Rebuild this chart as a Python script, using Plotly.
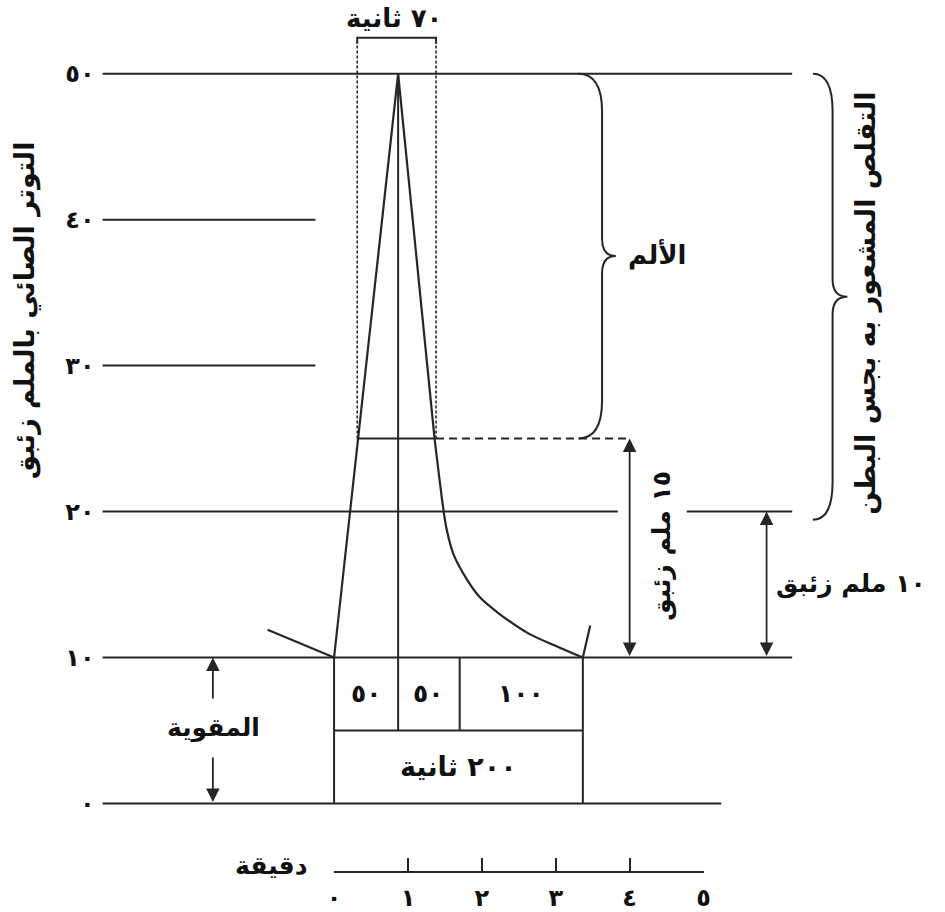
import plotly.graph_objects as go

# ---------------- data ----------------
y_tick_vals = [0, 10, 20, 30, 40, 50]
y_tick_text = ['٠', '١٠', '٢٠', '٣٠', '٤٠', '٥٠']
minute_vals = [0, 1, 2, 3, 4, 5]
minute_text = ['٠', '١', '٢', '٣', '٤', '٥']

# contraction curve (time in seconds, pressure in mmHg)
lead_t = [-54, 0]
lead_p = [11.9, 10]
rise_t = [0, 52]
rise_p = [10, 50]
fall_t = [52, 81.6]
fall_p = [50, 25]
decay_t = [81.6, 89, 91.7, 97, 107.7, 118.4, 134.4, 158.4, 182.4, 202]
decay_p = [25, 20, 18.67, 17.07, 15.37, 14.12, 12.98, 11.62, 10.71, 10]
tail_t = [202, 208]
tail_p = [10, 12.2]

basal_tone = 10
peak_p = 50
pain_level = 25
palpable_level = 20
phase_edges = [0, 52, 102, 202]
phase_labels = ['٥٠', '٥٠', '١٠٠']
total_label = '٢٠٠ ثانية'
pain_window = [18.8, 82.8]
pain_window_label = '٧٠ ثانية'

# ---------------- figure ----------------
W, H = 945, 912
LC = '#262626'
TC = '#111111'
FONT = 'DejaVu Sans'

# pixel <-> data helpers (x: seconds, y: mmHg)
X0PIX, XSCALE = 332.0, 1.25
Y0PIX, YSCALE = 807.0, 14.66
x_range = [(0 - X0PIX) / XSCALE, (W - X0PIX) / XSCALE]
y_range = [(Y0PIX - H) / YSCALE, (Y0PIX - 0) / YSCALE]

def xs(px):
    return (px - X0PIX) / XSCALE

def ys(py):
    return (Y0PIX - py) / YSCALE

fig = go.Figure()
line_style = dict(color=LC, width=2.2)
fig.add_trace(go.Scatter(x=lead_t, y=lead_p, mode='lines', line=line_style, hoverinfo='skip'))
fig.add_trace(go.Scatter(x=rise_t, y=rise_p, mode='lines', line=line_style, hoverinfo='skip'))
fig.add_trace(go.Scatter(x=fall_t, y=fall_p, mode='lines', line=line_style, hoverinfo='skip'))
fig.add_trace(go.Scatter(x=decay_t, y=decay_p, mode='lines',
                         line=dict(color=LC, width=2.2, shape='spline', smoothing=0.8),
                         hoverinfo='skip'))
fig.add_trace(go.Scatter(x=tail_t, y=tail_p, mode='lines', line=line_style, hoverinfo='skip'))
# invisible trace on the minute axis so it renders
fig.add_trace(go.Scatter(x=[0, 5], y=[-100, -100], xaxis='x2', yaxis='y', mode='markers',
                         marker=dict(opacity=0), hoverinfo='skip'))

shapes = []
def hline(y, x0, x1, dash='solid', width=2):
    shapes.append(dict(type='line', xref='x', yref='y', x0=x0, x1=x1, y0=y, y1=y,
                       line=dict(color=LC, width=width, dash=dash)))

def vline(x, y0, y1, dash='solid', width=2):
    shapes.append(dict(type='line', xref='x', yref='y', x0=x, x1=x, y0=y0, y1=y1,
                       line=dict(color=LC, width=width, dash=dash)))

left = xs(97)
hline(peak_p, left, xs(797))
hline(40, left, xs(313))
hline(30, left, xs(313))
hline(palpable_level, left, xs(620))
hline(palpable_level, xs(690), xs(797))
hline(basal_tone, left, xs(797))
hline(0, left, xs(725))
# pain threshold line
rise_cross = rise_t[0] + (pain_level - rise_p[0]) / (rise_p[1] - rise_p[0]) * (rise_t[1] - rise_t[0])
hline(pain_level, rise_cross, pain_window[1])
hline(pain_level, pain_window[1], xs(632), dash='8px,5px')

# timing boxes
mid_box = (basal_tone + 0) / 2
vline(phase_edges[0], 0, basal_tone)
vline(phase_edges[3], 0, basal_tone)
vline(phase_edges[1], mid_box, peak_p)
vline(phase_edges[2], mid_box, basal_tone)
hline(mid_box, phase_edges[0], phase_edges[3])

# 70 s dashed window
top_y = ys(38)
vline(pain_window[0], pain_level, ys(43), dash='3px,2px', width=1.6)
vline(pain_window[1], pain_level, ys(43), dash='3px,2px', width=1.6)
shapes.append(dict(type='path', xref='x', yref='y',
                   path=f'M {pain_window[0]},{ys(44)} L {pain_window[0]},{top_y} L {pain_window[1]},{top_y} L {pain_window[1]},{ys(44)}',
                   line=dict(color=LC, width=2)))

def brace(x0, x1, xt, ytop, ybot, r, r2):
    ym = (ytop + ybot) / 2
    return (f'M {x0},{ytop} Q {x1},{ytop} {x1},{ytop - r} '
            f'L {x1},{ym + r2} Q {x1},{ym} {xt},{ym} '
            f'Q {x1},{ym} {x1},{ym - r2} '
            f'L {x1},{ybot + r} Q {x1},{ybot} {x0},{ybot}')

shapes.append(dict(type='path', xref='x', yref='y',
                   path=brace(xs(580), xs(604), xs(618), peak_p, pain_level, 2.6, 1.2),
                   line=dict(color=LC, width=2)))
shapes.append(dict(type='path', xref='x', yref='y',
                   path=brace(xs(818), xs(838), xs(853), peak_p, ys(522), 2.6, 1.2),
                   line=dict(color=LC, width=2)))

annotations = []
def darrow(x, y0, y1):
    annotations.append(dict(x=x, y=y0, ax=x, ay=y1, xref='x', yref='y', axref='x', ayref='y',
                            text='', showarrow=True, arrowside='end+start', arrowhead=2,
                            arrowsize=1.5, arrowwidth=1.8, arrowcolor=LC, standoff=0, startstandoff=0))

def label(x, y, text, size=26, angle=0, bg=None, pad=0):
    d = dict(x=x, y=y, xref='x', yref='y', text=text, showarrow=False, textangle=angle,
             font=dict(family=FONT, size=size, color=TC, weight='bold'))
    if bg:
        d.update(bgcolor=bg, borderpad=pad)
    annotations.append(d)

darrow(xs(632), pain_level, basal_tone)
darrow(xs(771), palpable_level, basal_tone)
darrow(xs(209), basal_tone, 0)

label(xs(393), ys(18), pain_window_label, size=26)
label(xs(660), ys(256), 'الألم', size=26)
label(xs(872), ys(305), 'التقلص المشعور به بجس البطن', size=27, angle=-90)
label(xs(664), ys(548), '١٥ ملم زئبق', size=25, angle=-90)
label(xs(857), ys(587), '١٠ ملم زئبق', size=25)
label(xs(210), ys(731), 'المقوية', size=25, bg='white', pad=14)
for i, t in enumerate(phase_labels):
    label((phase_edges[i] + phase_edges[i + 1]) / 2, (basal_tone + mid_box) / 2, t, size=25)
label((phase_edges[0] + phase_edges[3]) / 2, mid_box / 2, total_label, size=27)
label(xs(268), ys(869), 'دقيقة', size=25)
label(xs(18), ys(312), 'التوتر الصائي بالملم زئبق', size=27, angle=-90)

fig.update_layout(
    width=W, height=H, margin=dict(l=0, r=0, t=0, b=0),
    paper_bgcolor='white', plot_bgcolor='rgba(0,0,0,0)', showlegend=False,
    shapes=shapes, annotations=annotations,
    xaxis=dict(range=x_range, visible=False, showgrid=False, zeroline=False, domain=[0, 1]),
    yaxis=dict(range=y_range, showgrid=False, zeroline=False, showline=False,
               anchor='free', position=97 / W, domain=[0, 1],
               tickvals=y_tick_vals, ticktext=y_tick_text, ticks='',
               ticklabelstandoff=8,
               tickfont=dict(family=FONT, size=24, color=TC, weight='bold')),
    xaxis2=dict(range=[0, 5], domain=[332 / W, 707 / W], anchor='free', position=(H - 876) / H,
                showgrid=False, zeroline=False, showline=True, linecolor=LC, linewidth=2,
                ticks='inside', ticklen=13, tickwidth=2, tickcolor=LC,
                tickvals=minute_vals, ticktext=minute_text, ticklabelstandoff=4,
                tickfont=dict(family=FONT, size=24, color=TC, weight='bold')),
)

fig.write_html('out.html', config={'displayModeBar': False},
               post_script="document.body.style.margin='0';")
